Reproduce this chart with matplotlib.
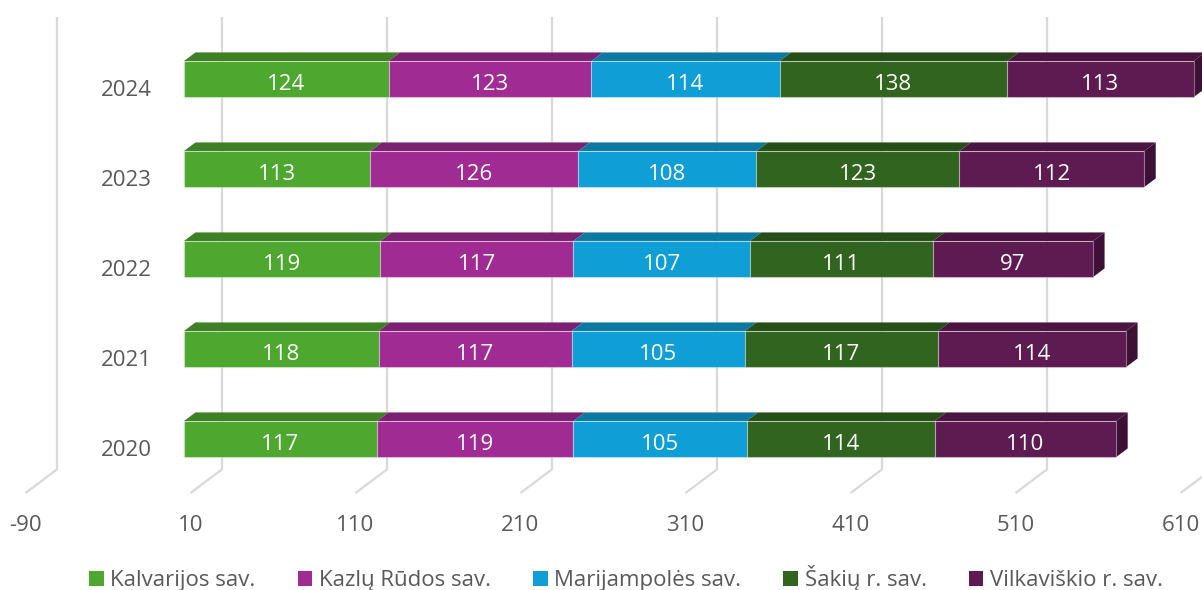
import matplotlib
matplotlib.use("Agg")
import matplotlib.pyplot as plt
from matplotlib.patches import Polygon, Patch
import numpy as np

# ---- data ----
years = ["2020", "2021", "2022", "2023", "2024"]
series_names = ["Kalvarijos sav.", "Kazlų Rūdos sav.", "Marijampolės sav.",
                "Šakių r. sav.", "Vilkaviškio r. sav."]
kalvarijos = [117, 118, 119, 113, 124]
kazlu_rudos = [119, 117, 117, 126, 123]
marijampole = [105, 105, 107, 108, 114]
sakiai = [114, 117, 111, 123, 138]
vilkaviskis = [110, 114, 97, 112, 113]
axis_ticks = [-90, 10, 110, 210, 310, 410, 510, 610]

# ---- styles ----
colors = ["#4EA72E", "#A02B93", "#0F9ED5", "#30641F", "#5E1B52"]
top_colors = ["#3E8124", "#7C2071", "#0C79A3", "#264F18", "#4A1541"]
side_colors = ["#346F1F", "#651B5C", "#0A6387", "#1F4214", "#3E1037"]
text_gray = "#595959"
grid_gray = "#D9D9D9"
FONT = "Open Sans"
FS = 16

W, H = 1202, 590
fig = plt.figure(figsize=(W / 100, H / 100), dpi=100)
ax = fig.add_axes([0, 0, 1, 1])
ax.axis("off")

# scale: value units horizontally, category units vertically
px_per_val = 1.65
x_zero_px = 174.0
px_per_cat = 90.0
y0_px = 446.5
ax.set_xlim(-x_zero_px / px_per_val, (W - x_zero_px) / px_per_val)
ax.set_ylim((y0_px - H) / px_per_cat, y0_px / px_per_cat)

# depth vector (full floor depth)
Dx = 32 / px_per_val
Dy = 24 / px_per_cat
floor_front = (y0_px - 493) / px_per_cat
wall_top = (y0_px - 17) / px_per_cat
base_off = 9.0 / px_per_cat  # baseline offset below visual centre of digits

# gridlines: back wall verticals + floor diagonals
for v in axis_ticks:
    ax.plot([v + Dx, v + Dx], [floor_front + Dy, wall_top], color=grid_gray,
            lw=1.6, zorder=1, solid_capstyle="butt")
    ax.plot([v, v + Dx], [floor_front, floor_front + Dy], color=grid_gray,
            lw=1.6, zorder=1, solid_capstyle="butt")
    ax.text(v, (y0_px - 531) / px_per_cat, str(v), ha="center", va="baseline",
            color=text_gray, fontsize=FS, family=FONT)

# bars
z0, z1 = 0.31, 0.67
bar_h = 36 / px_per_cat
bdx = (z1 - z0) * Dx
bdy = (z1 - z0) * Dy
data = [kalvarijos, kazlu_rudos, marijampole, sakiai, vilkaviskis]
ypos = np.arange(len(years))
yc = ypos + z0 * Dy
left = np.zeros(len(years)) + z0 * Dx
n_series = len(data)
for s, vals in enumerate(data):
    vals = np.array(vals, dtype=float)
    ax.barh(yc, vals, left=left, height=bar_h, color=colors[s],
            edgecolor=(1, 1, 1, 0.35), linewidth=0.8, zorder=3)
    for i in range(len(years)):
        l = left[i]
        r = left[i] + vals[i]
        top = yc[i] + bar_h / 2
        bot = yc[i] - bar_h / 2
        ax.add_patch(Polygon([(l, top), (r, top), (r + bdx, top + bdy), (l + bdx, top + bdy)],
                             closed=True, facecolor=top_colors[s], edgecolor="none", zorder=2.5))
        if s == n_series - 1:
            ax.add_patch(Polygon([(r, bot), (r, top), (r + bdx, top + bdy), (r + bdx, bot + bdy)],
                                 closed=True, facecolor=side_colors[s], edgecolor="none", zorder=2.5))
        ax.text((l + r) / 2, yc[i] - 1.5 / px_per_cat - base_off, f"{int(vals[i])}",
                ha="center", va="baseline", color="white", fontsize=FS,
                family=FONT, zorder=5)
    left = left + vals

# category labels
for i, y in enumerate(years):
    ax.text(-22 / px_per_val, ypos[i] - 1 / px_per_cat - base_off, y, ha="right",
            va="baseline", color=text_gray, fontsize=FS, family=FONT)

# legend
handles = [Patch(facecolor=c, edgecolor="none") for c in colors]
fig.legend(handles, series_names, loc="center", ncol=5,
           bbox_to_anchor=(626 / W, 1 - 578 / H), frameon=False,
           prop={"family": FONT, "size": FS}, labelcolor=text_gray,
           handlelength=0.65, handleheight=0.65, handletextpad=0.3,
           columnspacing=1.9, borderpad=0)

fig.savefig("out.png", dpi=100)
